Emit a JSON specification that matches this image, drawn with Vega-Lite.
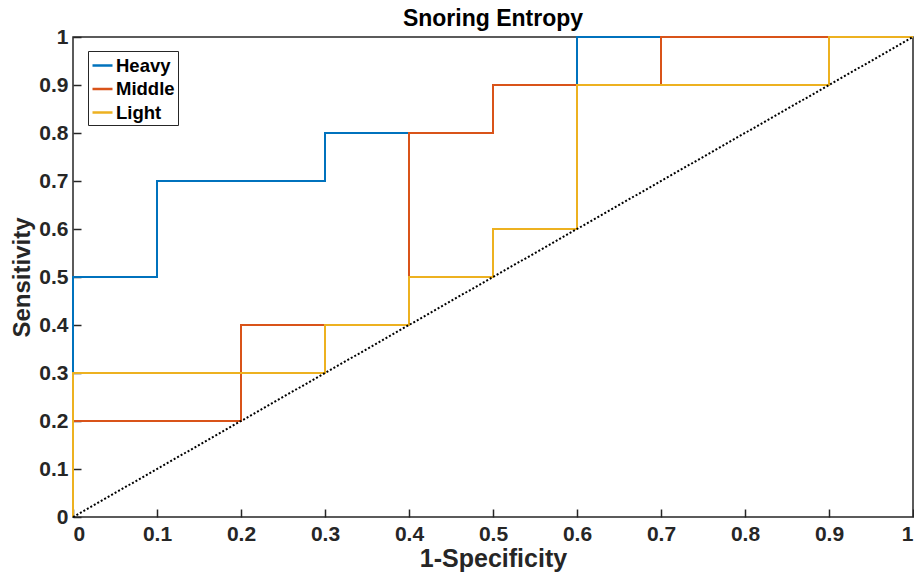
{
  "$schema": "https://vega.github.io/schema/vega-lite/v6.json",
  "width": 840,
  "height": 480,
  "autosize": {"type": "none"},
  "padding": {"left": 73, "top": 37, "right": 1, "bottom": 58},
  "background": "white",
  "title": {"text": "Snoring Entropy", "font": "Liberation Sans", "fontSize": 23, "fontWeight": "bold", "color": "#000000", "offset": -5},
  "config": {
    "view": {"stroke": "#262626", "strokeWidth": 1.5},
    "axis": {"grid": false, "domain": false, "labelFont": "Liberation Sans", "labelFontSize": 21, "labelFontWeight": "bold", "labelColor": "#262626", "titleFont": "Liberation Sans", "titleFontSize": 24, "titleFontWeight": "bold", "titleColor": "#262626", "tickColor": "#262626", "tickWidth": 1.5}
  },
  "datasets": {
    "roc": [
      {"series": "Heavy", "i": 0, "fpr": 0, "tpr": 0},
      {"series": "Heavy", "i": 1, "fpr": 0, "tpr": 0.5},
      {"series": "Heavy", "i": 2, "fpr": 0.1, "tpr": 0.5},
      {"series": "Heavy", "i": 3, "fpr": 0.1, "tpr": 0.7},
      {"series": "Heavy", "i": 4, "fpr": 0.3, "tpr": 0.7},
      {"series": "Heavy", "i": 5, "fpr": 0.3, "tpr": 0.8},
      {"series": "Heavy", "i": 6, "fpr": 0.5, "tpr": 0.8},
      {"series": "Heavy", "i": 7, "fpr": 0.5, "tpr": 0.9},
      {"series": "Heavy", "i": 8, "fpr": 0.6, "tpr": 0.9},
      {"series": "Heavy", "i": 9, "fpr": 0.6, "tpr": 1.0},
      {"series": "Heavy", "i": 10, "fpr": 1.0, "tpr": 1.0},
      {"series": "Middle", "i": 0, "fpr": 0, "tpr": 0},
      {"series": "Middle", "i": 1, "fpr": 0, "tpr": 0.2},
      {"series": "Middle", "i": 2, "fpr": 0.2, "tpr": 0.2},
      {"series": "Middle", "i": 3, "fpr": 0.2, "tpr": 0.4},
      {"series": "Middle", "i": 4, "fpr": 0.4, "tpr": 0.4},
      {"series": "Middle", "i": 5, "fpr": 0.4, "tpr": 0.8},
      {"series": "Middle", "i": 6, "fpr": 0.5, "tpr": 0.8},
      {"series": "Middle", "i": 7, "fpr": 0.5, "tpr": 0.9},
      {"series": "Middle", "i": 8, "fpr": 0.7, "tpr": 0.9},
      {"series": "Middle", "i": 9, "fpr": 0.7, "tpr": 1.0},
      {"series": "Middle", "i": 10, "fpr": 1.0, "tpr": 1.0},
      {"series": "Light", "i": 0, "fpr": 0, "tpr": 0},
      {"series": "Light", "i": 1, "fpr": 0, "tpr": 0.3},
      {"series": "Light", "i": 2, "fpr": 0.3, "tpr": 0.3},
      {"series": "Light", "i": 3, "fpr": 0.3, "tpr": 0.4},
      {"series": "Light", "i": 4, "fpr": 0.4, "tpr": 0.4},
      {"series": "Light", "i": 5, "fpr": 0.4, "tpr": 0.5},
      {"series": "Light", "i": 6, "fpr": 0.5, "tpr": 0.5},
      {"series": "Light", "i": 7, "fpr": 0.5, "tpr": 0.6},
      {"series": "Light", "i": 8, "fpr": 0.6, "tpr": 0.6},
      {"series": "Light", "i": 9, "fpr": 0.6, "tpr": 0.9},
      {"series": "Light", "i": 10, "fpr": 0.9, "tpr": 0.9},
      {"series": "Light", "i": 11, "fpr": 0.9, "tpr": 1.0},
      {"series": "Light", "i": 12, "fpr": 1.0, "tpr": 1.0}
    ],
    "diag": [
      {"fpr": 0, "tpr": 0},
      {"fpr": 1, "tpr": 1}
    ]
  },
  "layer": [
    {
      "data": {"name": "roc"},
      "transform": [{"filter": "datum.series === 'Heavy'"}],
      "mark": {"type": "line", "strokeWidth": 2},
      "encoding": {
        "x": {"field": "fpr", "type": "quantitative", "scale": {"domain": [0, 1], "nice": false}, "axis": {"title": "1-Specificity", "titleFontSize": 25, "labelFontSize": 21, "values": [0, 0.1, 0.2, 0.3, 0.4, 0.5, 0.6, 0.7, 0.8, 0.9, 1], "format": "~g", "tickSize": -8, "labelPadding": 14, "titlePadding": 2}},
        "y": {"field": "tpr", "type": "quantitative", "scale": {"domain": [0, 1], "nice": false}, "axis": {"title": "Sensitivity", "labelFontSize": 21, "values": [0, 0.1, 0.2, 0.3, 0.4, 0.5, 0.6, 0.7, 0.8, 0.9, 1], "format": "~g", "tickSize": -8, "labelPadding": 13, "titlePadding": 4}},
        "order": {"field": "i", "type": "quantitative"},
        "color": {"field": "series", "type": "nominal", "scale": {"domain": ["Heavy", "Middle", "Light"], "range": ["#0072BD", "#D95319", "#EDB120"]},
          "legend": {"title": null, "orient": "none", "legendX": 15, "legendY": 14, "symbolType": "stroke", "symbolStrokeWidth": 2.5, "symbolSize": 400, "labelFont": "Liberation Sans", "labelFontSize": 18.5, "labelFontWeight": "bold", "labelColor": "#000000", "strokeColor": "#262626", "fillColor": "white", "padding": 3, "rowPadding": 2.5, "labelOffset": 2}}
      }
    },
    {
      "data": {"name": "roc"},
      "transform": [{"filter": "datum.series === 'Middle'"}],
      "mark": {"type": "line", "strokeWidth": 2},
      "encoding": {
        "x": {"field": "fpr", "type": "quantitative"},
        "y": {"field": "tpr", "type": "quantitative"},
        "order": {"field": "i", "type": "quantitative"},
        "color": {"field": "series", "type": "nominal"}
      }
    },
    {
      "data": {"name": "roc"},
      "transform": [{"filter": "datum.series === 'Light'"}],
      "mark": {"type": "line", "strokeWidth": 2},
      "encoding": {
        "x": {"field": "fpr", "type": "quantitative"},
        "y": {"field": "tpr", "type": "quantitative"},
        "order": {"field": "i", "type": "quantitative"},
        "color": {"field": "series", "type": "nominal"}
      }
    },
    {
      "data": {"name": "diag"},
      "mark": {"type": "line", "strokeWidth": 2, "color": "#000000", "strokeDash": [2, 2]},
      "encoding": {
        "x": {"field": "fpr", "type": "quantitative"},
        "y": {"field": "tpr", "type": "quantitative"}
      }
    }
  ]
}
